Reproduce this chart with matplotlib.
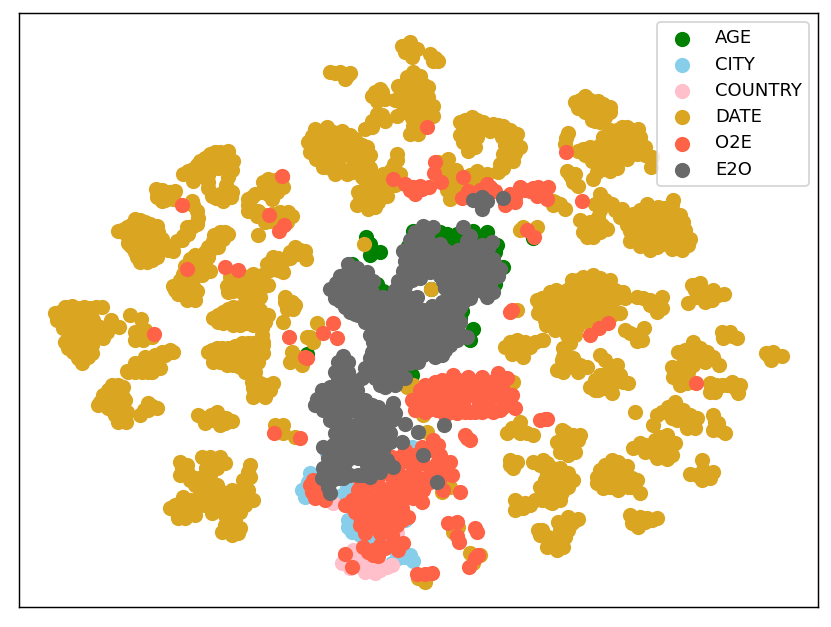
#!/usr/bin/env python3
import matplotlib
matplotlib.use('Agg')
import matplotlib.pyplot as plt

W, H = 831, 627
DPI = 130

# embedding coordinates (x, y; y grows downward)
age_pts = [(366,237),(370,244),(370,255),(380,252),(408,246),(413,231),(440,232),(447,234),
           (460,241),(457,234),(473,231),(487,232),(503,267),(495,252),(495,284),(377,284),
           (383,291),(396,299),(431,289),(462,311),(533,238),(352,264),(460,318),(473,329),
           (470,340),(412,375),(307,354),(442,238),(452,238),(478,238),(483,240),(497,245)]

city_pts = [(310,473),(302,490),(305,497),(308,482),(347,488),(348,527),(353,517),(365,537),
            (377,535),(397,500),(390,500),(400,517),(405,557),(413,561),(392,563),(412,447),
            (327,453),(387,527),(367,540),(397,553),(306,487),(312,478),(350,490),(342,495),
            (348,520),(352,532),(360,535),(370,535),(375,542),(383,540),(395,505),(400,510),
            (405,520),(355,500),(403,555),(398,558),(410,555)]

country_pts = [(333,503),(342,563),(353,550),(360,557),(367,567),(375,573),(387,567),(350,560),
               (377,563),(397,533),(375,493),(345,556),(350,568),(358,565),(365,560),(372,558),
               (380,570),(365,572),(372,568),(358,560),(392,565)]

date_pts = [
    (183,174),(193,169),(200,161),(210,154),(220,152),(228,151),(233,161),(223,161),(212,162),
    (202,171),(193,181),(208,182),(228,177),(232,192),(223,201),(212,196),(220,194),
    (156,189),(157,197),(167,196),(175,191),(162,201),(173,199),(192,201),(197,211),(197,224),
    (187,227),(183,236),(177,241),(188,234),
    (118,231),(127,227),(135,219),(145,222),(157,226),(133,231),(143,232),(153,236),(162,239),
    (132,247),(140,244),(150,247),(163,249),(173,251),(137,257),(147,262),(157,257),(128,237),
    (220,232),(228,234),(213,241),(223,239),(208,247),(218,247),(200,256),(208,257),(190,259),
    (185,266),(200,267),(210,271),(195,274),(183,274),(173,286),(183,284),(197,291),(188,296),
    (178,294),(190,286),
    (227,286),(233,291),(230,277),(243,276),(242,286),(253,274),(253,286),(263,286),(252,296),
    (260,297),(267,264),(273,257),(283,261),(283,272),(275,266),(290,252),(295,247),(305,251),
    (306,259),(297,254),
    (268,179),(282,177),(273,186),(283,187),(268,194),(277,192),(272,199),(255,194),(248,199),
    (248,211),(258,211),(257,216),(270,221),(280,212),(292,216),(287,222),(277,221),(258,235),
    (285,297),(292,302),(287,309),
    (55,313),(65,307),(77,308),(90,308),(102,307),(57,320),(68,318),(82,318),(93,320),(63,328),
    (75,328),(88,328),(100,327),(107,332),(65,342),(77,340),(90,338),(103,338),(73,352),(85,350),
    (92,353),(82,363),(82,357),(111,320),(119,327),(130,315),(141,319),
    (135,332),(135,340),(145,330),(143,340),(152,337),
    (127,371),(135,363),(142,372),(152,372),(160,368),(145,357),(155,355),(162,352),(170,350),
    (173,352),(153,363),
    (98,405),(103,395),(112,385),(123,387),(112,397),(123,397),(108,408),(122,408),(118,422),
    (126,422),(140,415),(148,403),(157,408),(148,410),
    (213,318),(223,312),(233,307),(247,308),(260,310),(268,315),(223,323),(233,325),(247,323),
    (260,323),(262,335),(283,322),(285,302),(295,305),(187,300),(195,300),
    (208,352),(217,348),(228,348),(242,343),(253,343),(263,353),(213,362),(227,365),(240,367),
    (250,368),(233,357),(250,355),(263,345),
    (252,382),(260,383),(273,383),(253,397),(265,397),(262,388),(253,388),
    (198,415),(205,423),(217,412),(220,425),(232,421),(212,420),
    (275,425),(283,425),(283,433),(295,437),
    (180,462),(180,475),(202,457),(220,457),(225,463),(217,468),(188,473),(202,477),(250,465),
    (250,477),(243,480),(200,485),(217,485),(232,490),(243,492),(253,500),(170,508),(180,503),
    (185,518),(183,497),(193,508),(210,500),(212,513),(223,500),(237,503),(240,512),(230,513),
    (222,532),(232,535),(240,528),(230,523),(177,513),
    (317,323),(307,337),(313,342),(292,352),(290,362),(302,365),(297,357),
    (330,72),(345,79),(350,73),(340,72),
    (402,46),(410,42),(412,57),(405,52),(417,49),(430,54),(438,61),(433,61),
    (372,96),(380,89),(385,99),(377,101),
    (398,86),(407,77),(420,76),(428,87),(403,97),(417,92),(428,97),(433,106),(403,112),(417,109),
    (397,116),(433,116),(422,117),(410,134),(418,134),(413,126),(385,121),(377,114),(372,121),
    (365,129),
    (315,129),(327,127),(342,131),(308,142),(320,141),(332,142),(345,142),(355,139),(310,152),
    (322,154),(333,156),(347,154),(367,147),(358,156),(323,167),(335,174),(347,174),(338,164),
    (353,166),(367,161),(365,174),
    (362,177),(373,176),(383,174),(358,192),(370,187),(380,191),(357,205),(368,209),(378,202),
    (387,196),(365,199),(388,182),(397,154),(394,164),(400,174),
    (448,159),(438,162),(443,171),(453,177),(450,199),(460,187),(477,171),(487,174),(473,181),
    (460,122),(472,117),(483,122),(472,131),(463,142),(468,151),(477,137),(493,124),(503,126),
    (517,134),(502,137),(520,147),(510,146),(503,154),(513,161),(500,164),(498,172),(490,131),
    (523,227),(537,227),(364,244),(431,289),
    (575,102),(585,96),(598,101),(610,107),(590,114),(605,117),(595,121),(583,104),(597,109),
    (627,127),(638,129),(615,137),(603,137),(620,147),(633,142),(645,147),(607,151),(613,161),
    (627,159),(637,154),(652,157),(651,167),(583,149),(590,147),(578,151),(592,161),(603,169),
    (593,179),(610,171),(568,133),(565,144),(567,171),(575,174),(573,182),(578,186),
    (560,204),(565,209),(553,201),
    (600,194),(595,204),(612,204),(622,209),(580,220),(598,217),(583,232),(593,237),(607,229),
    (595,227),(633,214),(647,204),(658,207),(673,200),(668,214),(683,222),(630,231),(643,227),
    (630,241),(645,244),(657,247),(672,249),(690,239),(680,244),(660,231),(677,231),(620,217),
    (572,280),(583,277),(593,275),(610,280),(567,290),(578,290),(593,288),(608,290),(623,292),
    (563,303),(575,302),(588,302),(603,300),(617,298),(562,313),(575,313),(588,313),(602,312),
    (620,313),(567,330),(577,327),(567,335),(587,322),
    (550,292),(542,298),(552,303),(543,313),(553,323),(543,340),
    (563,348),(562,360),(573,358),(563,372),(578,372),(587,367),(570,343),
    (600,355),(617,365),(607,373),(590,387),(598,390),(612,393),(623,382),(602,382),(615,382),
    (637,297),(650,300),(662,297),(657,312),(662,308),(625,330),(635,335),(644,328),(642,340),
    (692,285),(700,283),(713,290),(705,302),(712,300),(724,294),(688,303),(703,292),
    (722,332),(730,332),(737,338),(723,338),(766,353),(773,352),(782,356),(771,360),
    (678,352),(693,342),(707,352),(687,360),(700,358),(713,357),(719,365),(672,367),(673,377),
    (680,385),(688,372),(687,383),(710,392),(710,383),(722,385),(732,382),(740,385),(738,393),
    (635,412),(657,415),(653,425),(668,407),(675,402),(683,410),(672,418),(697,418),(687,428),
    (695,428),(682,418),(713,415),(713,430),(718,423),(725,433),
    (633,448),(640,443),(652,452),(655,440),(667,435),(675,443),(663,447),(667,459),(657,458),
    (702,460),(690,474),(702,480),(713,472),(703,470),
    (612,460),(597,477),(627,466),(610,472),(603,488),(618,490),(637,480),(640,493),(628,487),
    (630,515),(632,523),(640,517),(657,518),(638,527),(647,518),
    (562,430),(580,435),(557,442),(572,440),(575,452),(560,452),
    (547,463),(560,468),(568,473),(550,477),(568,487),(558,490),(547,490),(552,503),
    (558,522),(568,517),(578,519),(568,530),(563,547),(557,550),(548,537),(542,530),
    (505,347),(517,340),(523,357),(530,347),(542,340),(538,313),(553,313),(537,300),(563,357),
    (562,368),(507,433),(520,422),(520,433),(533,435),
    (510,460),(513,468),(533,462),(543,460),(547,473),(540,487),(517,502),(515,510),(523,508),
    (535,500),(550,502),(562,492),(557,473),(538,530),(548,538),(547,547),
    (407,387),(413,385),(423,415),(427,432),(513,382),(442,492),(450,487),(453,532),(470,553),
    (480,555),(473,563),(425,582),(418,578),(438,453),(458,527),(517,310),(555,202),(310,337),
]
# denser parts of the date blobs
date_pts += [
    (188,171),(197,165),(205,158),(215,152),(205,166),(218,158),(228,155),(210,168),(198,176),
    (205,177),(218,168),(228,170),(208,175),(232,170),(226,185),(231,197),(216,198),(226,196),
    (208,188),(162,190),(170,192),(157,192),(165,200),(193,205),(198,218),(193,226),(182,240),
    (190,228),
    (122,230),(131,225),(140,220),(150,224),(137,225),(148,229),(125,233),(138,237),(148,238),
    (158,232),(157,240),(135,240),(130,245),(145,242),(155,248),(168,250),(135,252),(143,252),
    (152,254),(143,258),(152,260),(140,262),(165,245),(128,243),
    (214,235),(225,232),(218,241),(205,252),(195,262),(213,248),(195,255),(205,262),(190,268),
    (202,275),(192,280),(180,280),(175,290),(185,290),(193,286),(183,294),(192,293),
    (235,280),(238,286),(228,292),(248,280),(248,290),(258,280),(245,296),(258,290),(268,285),
    (270,262),(278,258),(270,270),(288,258),(278,270),(262,275),(300,250),(290,258),
    (275,180),(278,190),(263,182),(262,192),(273,195),(252,197),(248,205),(253,210),(265,215),
    (272,214),(283,218),(288,212),(275,215),(265,222),(288,303),(293,309),
    (60,312),(72,306),(84,307),(96,307),(62,322),(75,320),(88,320),(70,325),(82,328),(95,328),
    (58,315),(70,334),(82,335),(95,332),(70,345),(80,345),(92,345),(100,332),(78,358),(88,357),
    (68,348),(78,352),(104,332),
    (138,335),(140,330),(140,336),(147,335),(128,372),(140,365),(148,366),(150,358),(158,362),
    (165,355),(135,372),(148,372),(158,356),
    (100,402),(108,390),(118,385),(106,398),(117,393),(117,403),(112,410),(115,415),(122,415),
    (118,408),(127,412),(144,410),(152,406),
    (218,315),(228,309),(240,307),(253,309),(228,318),(240,315),(253,316),(263,318),(240,325),
    (253,325),(262,328),(263,342),(218,322),
    (212,350),(222,348),(235,346),(248,343),(258,345),(215,357),(225,357),(240,350),(258,352),
    (220,362),(233,365),(245,362),(258,362),(255,372),(245,372),(256,384),(266,385),(258,392),
    (270,390),(248,366),
    (203,418),(211,415),(215,420),(225,423),(226,418),
    (182,468),(187,465),(210,457),(206,468),(210,475),(190,480),(195,485),(205,490),(200,495),
    (175,505),(185,510),(178,518),(195,500),(205,505),(218,505),(228,505),(222,510),(245,485),
    (248,472),(237,495),(245,505),(235,520),(228,530),(238,533),(222,492),(212,490),(188,510),
    (200,505),
    (335,73),(347,76),(406,48),(410,50),(435,58),
    (375,92),(378,95),(382,92),(401,92),(412,85),(424,85),(410,95),(422,102),(410,105),(425,110),
    (405,105),(412,118),(429,112),(403,105),(417,100),(380,118),(372,127),(382,115),(415,133),
    (320,133),(333,132),(312,136),(325,135),(337,137),(350,135),(315,147),(327,148),(340,148),
    (352,148),(362,145),(328,160),(316,159),(340,155),(352,158),(330,168),(342,170),(358,165),
    (362,170),(352,172),(370,155),(370,168),
    (366,182),(377,180),(385,178),(364,190),(375,195),(370,202),(360,200),(383,190),(375,207),
    (391,170),(397,160),(395,185),
    (445,165),(450,180),(455,187),(447,190),(452,192),(470,175),(480,178),(465,182),(478,185),
    (456,170),
    (465,120),(477,120),(468,125),(478,130),(467,135),(468,145),(473,142),(475,147),(460,135),
    (498,125),(510,130),(508,137),(515,145),(505,145),(515,153),(508,158),(503,168),(515,140),
    (486,128),
    (580,100),(590,100),(603,104),(587,106),(578,108),(585,112),(600,115),(610,112),(592,120),
    (600,122),
    (620,135),(632,130),(622,127),(610,140),(625,140),(640,137),(632,150),(622,155),(615,148),
    (645,155),(640,150),(600,145),(585,155),(595,155),(604,160),(597,172),(605,163),(617,168),
    (572,178),(570,175),(566,138),
    (605,200),(600,210),(590,222),(585,225),(602,225),(590,230),(600,232),(587,237),(615,210),
    (640,210),(652,208),(665,208),(672,205),(625,215),(635,222),(648,215),(660,217),(675,222),
    (640,235),(652,237),(665,238),(680,235),(688,245),(650,228),(670,228),(635,236),(662,244),
    (627,225),(685,230),(682,250),(650,250),(640,246),
    (578,280),(588,280),(600,278),(605,283),(572,285),(585,284),(600,290),(615,290),(570,297),
    (582,296),(595,295),(610,295),(570,308),(582,308),(595,308),(610,306),(570,320),(580,320),
    (595,320),(575,335),(570,340),(625,298),(612,315),
    (548,297),(547,306),(550,315),(546,325),(556,312),
    (566,355),(570,365),(557,370),(565,365),(580,365),
    (605,360),(612,370),(600,375),(605,388),(595,380),(620,375),(610,380),(595,390),(628,383),
    (643,298),(655,305),(650,305),(658,302),(630,333),(640,335),(637,341),
    (695,290),(705,292),(710,296),(697,297),(718,295),(695,285),(726,335),(732,336),(768,355),
    (775,356),
    (685,350),(695,350),(700,348),(682,365),(693,365),(705,362),(678,372),(678,380),(692,382),
    (716,385),(727,385),(715,392),(735,388),
    (662,412),(678,408),(690,415),(690,422),(677,420),(715,422),(720,430),
    (645,445),(660,442),(668,443),(645,452),(658,450),(670,450),(662,455),(650,447),(697,475),
    (708,476),
    (605,465),(618,462),(600,470),(620,475),(625,480),(608,480),(597,483),(610,487),(632,487),
    (620,482),(603,470),(635,520),(645,522),(652,520),
    (565,432),(573,435),(562,440),(578,440),(568,447),(560,445),(568,455),
    (552,468),(560,478),(552,484),(545,480),(560,485),(553,495),(560,497),(545,497),
    (570,525),(573,522),(560,530),(557,542),(565,537),
    (510,342),(524,348),(515,350),(512,354),(535,342),(525,342),(540,307),(545,320),(555,305),
    (512,428),(520,428),(527,433),(517,462),(510,465),(540,465),(525,503),(530,505),(542,500),
    (555,497),(515,500),(540,535),(552,545),(562,532),(553,205),(520,230),
    (645,218),(655,222),(665,222),(680,215),(642,225),(655,230),(665,232),(675,238),(655,243),
    (670,243),(635,228),(413,72),(405,85),(418,84),(410,112),(395,100),
    (610,130),(605,145),(590,152),(612,155),(625,150),(640,142),(617,130),
    (556,290),(557,298),(558,320),(555,330),(565,325),
    (205,480),(195,478),(215,495),(245,498),(205,498),(195,515),(235,510),(225,525),(235,527),
    (190,500),(225,515),(248,490),
    (220,355),(235,352),(243,358),(255,358),(225,352),(228,322),(245,318),(258,315),(265,322),
    (220,318),(190,262),(180,290),(188,281),(240,291),(260,290),(238,280),(263,280),
    (115,400),(125,400),(110,403),(105,405),(145,365),
    (710,478),(660,437),(672,455),(612,478),(632,478),(560,470),(552,476),(573,480),(560,500),
    (592,325),
]

o2e_pts = [
    (412,400),(415,410),(420,390),(435,382),(432,395),(453,375),(447,387),(468,377),(482,377),
    (498,373),(507,378),(460,388),(475,388),(490,387),(503,390),(508,398),(515,408),(437,410),
    (450,407),(463,403),(478,407),(493,412),(503,407),(457,413),(482,412),
    (467,438),(465,435),(470,440),(540,420),(547,419),
    (433,440),(438,445),(422,447),(405,450),(392,457),(377,463),(450,462),(447,470),(437,463),
    (423,463),(410,463),(397,467),(383,473),(370,482),(358,490),(407,477),(393,480),(380,487),
    (430,473),(417,477),(423,490),(410,487),(398,490),(413,498),(422,502),(443,490),(460,492),
    (352,500),(352,507),(367,490),(390,470),(400,457),
    (313,480),(312,492),(315,498),(325,500),(320,490),
    (375,500),(365,505),(383,507),(402,508),(408,517),(360,517),(360,525),(370,513),(380,517),
    (393,515),(375,523),(387,522),(397,525),(380,533),(388,532),(363,547),(373,550),(373,555),
    (385,548),(393,545),(403,543),(345,554),(352,567),
    (417,574),(425,574),(432,573),(448,523),(457,522),(457,536),(459,542),(475,528),(477,532),
    (478,555),(475,558),(469,567),
    (300,438),(323,333),(333,323),(337,338),(305,357),(307,358),(289,337),(510,312),(512,310),
    (393,179),(435,162),(434,173),(441,182),(463,177),(427,127),(405,184),(413,187),(415,194),
    (422,189),(429,187),(462,198),(468,191),(487,184),(485,194),(495,191),(507,202),(515,202),
    (510,194),(520,187),(530,191),(538,187),(548,187),(547,199),(537,196),(527,230),(534,237),
    (282,176),(182,205),(269,215),(284,225),(279,231),(187,269),(225,267),(238,270),
    (154,334),(274,433),(566,152),(582,201),(608,323),(599,328),(590,335),(696,383),(545,419),
    (425,385),(440,388),(430,403),(445,397),(458,380),(470,386),(482,395),(495,380),(468,395),
    (492,397),(505,398),(425,412),(445,415),(470,412),(500,410),(440,402),(455,397),(512,395),
    (488,402),
    (430,450),(415,455),(440,455),(400,475),(385,465),(370,470),(360,480),(375,477),(390,490),
    (405,498),(395,498),(385,497),(365,497),(345,505),(415,468),(428,483),(440,478),(452,475),
    (415,490),(435,470),(400,485),
    (372,507),(385,512),(395,508),(402,520),(370,525),(365,533),(378,527),(392,535),(355,512),
    (360,510),(380,545),(398,550),(368,552),(378,556),(318,485),(325,490),(310,485),(322,482),
    (410,190),(420,186),(525,190),(533,188),(543,192),(515,197),(505,205),(480,190),(490,187),
    (420,400),(430,390),(442,380),(450,395),(462,381),(475,382),(488,382),(497,392),(478,400),
    (462,397),(510,402),(428,410),(450,412),(465,412),(487,410),(475,412),(440,408),(420,408),
]

e2o_pts = [
    (473,200),(482,197),(482,209),(487,201),(503,198),
    (423,226),(415,232),(433,227),(423,237),(440,244),(463,227),(403,251),(413,247),(427,251),
    (438,254),(405,261),(418,262),(432,262),(467,241),(473,247),(492,242),(485,254),(453,259),
    (465,257),(477,262),(493,259),(500,269),(403,271),(398,281),(405,286),(417,276),(430,272),
    (453,272),(467,272),(480,277),(490,284),(482,291),(493,292),(453,284),(450,294),(463,301),
    (443,281),
    (348,264),(340,276),(355,277),(367,272),(373,281),(330,289),(343,289),(358,289),(340,301),
    (353,301),(365,302),(383,297),(417,297),(400,309),(383,311),(432,306),(447,307),(460,307),
    (350,312),(367,307),(377,323),(390,317),(407,310),(423,310),(440,310),(457,312),(463,302),
    (373,342),(390,333),(405,330),(422,327),(437,328),(450,330),(467,337),(457,340),(378,357),
    (393,350),(410,347),(427,343),(442,355),(370,372),(385,387),(397,375),(380,370),(410,363),
    (400,360),(423,355),
    (343,356),(335,372),(343,365),(348,372),(330,387),(343,383),(317,399),(330,398),(323,410),
    (343,397),(357,390),(365,400),(378,407),(337,415),(353,410),(368,415),(393,403),(395,413),
    (385,420),(350,428),(365,427),(380,428),(390,433),(335,433),(348,442),(363,442),(378,442),
    (390,442),(323,447),(333,445),(353,452),(370,450),
    (405,424),(418,432),(402,442),(444,425),(423,455),(437,482),
    (337,457),(323,468),(338,470),(322,478),(332,480),(343,478),(330,493),(328,487),
    (358,475),(367,465),(370,477),(387,460),(393,467),
    (410,240),(420,232),(428,240),(418,245),(430,245),(445,250),(410,258),(422,256),(435,256),
    (447,252),(458,250),(470,236),(478,252),(488,248),(460,265),(472,266),(485,266),(495,265),
    (458,278),(470,282),(475,290),(487,272),(498,276),(410,266),(425,268),(440,268),(412,280),
    (420,278),(405,275),(440,276),(450,265),(445,288),(462,290),(470,298),(458,298),(487,297),
    (452,300),
    (348,271),(357,268),(346,283),(352,283),(365,280),(336,283),(336,295),(350,295),(362,295),
    (372,292),(345,307),(360,308),(372,302),(335,298),(355,314),
    (375,300),(390,300),(405,300),(442,302),(385,305),(395,305),(412,305),
    (358,315),(372,315),(385,315),(398,315),(415,315),(432,315),(448,315),
    (365,322),(380,322),(400,322),(412,322),(430,322),(445,322),(460,322),
    (370,335),(382,335),(398,335),(415,335),(430,335),(445,335),(462,335),
    (380,345),(400,345),(418,345),(435,345),(450,345),
    (372,352),(388,352),(402,352),(418,352),(432,352),
    (375,362),(390,362),(402,362),(418,362),(365,368),(388,368),(400,368),
    (362,378),(375,378),(390,378),(405,378),(380,385),(395,385),
    (338,362),(348,362),(338,378),(350,378),(322,390),(336,390),(350,390),
    (315,405),(336,405),(350,405),(360,405),(372,405),
    (330,420),(345,420),(360,420),(375,420),(392,420),
    (342,435),(356,435),(372,435),(385,435),(342,450),(360,450),(380,450),
    (328,458),(347,458),(365,458),(330,463),(345,463),(378,463),
    (330,475),(350,475),(362,475),(380,472),
    (392,325),(408,325),(422,325),(438,325),(455,325),(375,328),(390,342),(408,338),(425,338),
    (440,340),(455,332),(385,357),(395,357),(410,355),(425,348),(445,350),(435,357),(382,378),
    (397,378),(370,358),(340,370),(328,395),(342,390),(327,405),(345,412),(358,398),(370,410),
    (385,412),(340,428),(357,428),(372,442),(383,450),(355,445),(340,445),(350,458),(358,458),
    (335,465),(372,458),(338,478),
    (410,250),(428,232),(425,262),(415,270),(440,262),(452,280),(465,285),(478,282),(492,275),
    (480,265),(472,256),(460,272),(470,248),(482,245),(405,295),(395,290),(412,298),(455,288),
    (340,283),(352,270),(342,295),(358,283),(368,290),(345,298),(355,305),(365,312),(378,312),
]

labels = ['AGE', 'CITY', 'COUNTRY', 'DATE', 'O2E', 'E2O']
colors = ['green', 'skyblue', 'pink', 'goldenrod', 'tomato', 'dimgray']
series = [age_pts, city_pts, country_pts, date_pts, o2e_pts, e2o_pts]

fig = plt.figure(figsize=(W / DPI, H / DPI), dpi=DPI)
ax = fig.add_axes([19 / W, 1 - 607 / H, (818 - 19) / W, (607 - 13) / H])

for pts, c, lab in zip(series, colors, labels):
    xs, ys = zip(*pts)
    ax.scatter(xs, ys, c=c, label=lab, s=55)

ax.set_xlim(19, 818)
ax.set_ylim(607, 13)
ax.set_xticks([])
ax.set_yticks([])
ax.legend(loc='upper right', labelspacing=0.46, borderaxespad=0.5)

fig.savefig('out.png', dpi=DPI)
